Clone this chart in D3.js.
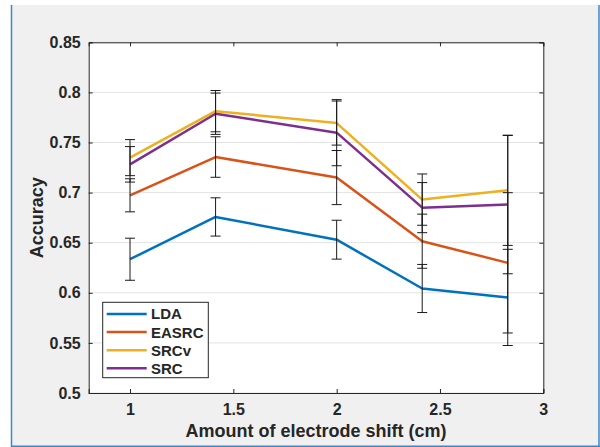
<!DOCTYPE html>
<html>
<head>
<meta charset="utf-8">
<script src="https://cdn.jsdelivr.net/npm/d3@7"></script>
<style>
  body { margin: 0; background: #fff; }
  svg { display: block; }
  text { font-family: "Liberation Sans", Arial, Helvetica, sans-serif; font-weight: bold; fill: #262626; }
</style>
</head>
<body>
<div id="chart"></div>
<script>
// data
var shifts = [1, 1.414, 2, 2.414, 2.828];
var seriesNames = ["LDA", "EASRC", "SRCv", "SRC"];
var seriesColors = ["#0072BD", "#D95319", "#EDB120", "#7E2F8E"];
var ldaAcc   = [0.6335, 0.6757, 0.653, 0.6043, 0.5954];
var easrcAcc = [0.6973, 0.7355, 0.715, 0.6515, 0.6299];
var srcvAcc  = [0.7349, 0.7813, 0.7694, 0.693, 0.7023];
var srcAcc   = [0.7282, 0.7787, 0.7598, 0.685, 0.688];
var ldaErr   = [0.021, 0.0191, 0.0194, 0.024, 0.048];
var easrcErr = [0.0165, 0.0202, 0.027, 0.027, 0.070];
var srcvErr  = [0.018, 0.0206, 0.022, 0.0256, 0.055];
var srcErr   = [0.0177, 0.0206, 0.033, 0.025, 0.069];
var xTicks = [1, 1.5, 2, 2.5, 3];
var xTickLabels = ["1", "1.5", "2", "2.5", "3"];
var yTicks = [0.5, 0.55, 0.6, 0.65, 0.7, 0.75, 0.8, 0.85];
var yTickLabels = ["0.5", "0.55", "0.6", "0.65", "0.7", "0.75", "0.8", "0.85"];

var width = 600;
var height = 447;
var axLeft = 88.7, axRight = 543.3, axTop = 42.3, axBottom = 393;

var svg = d3.select("#chart")
  .append("svg")
  .attr("width", width)
  .attr("height", height);

// figure background + window border
svg.append("rect").attr("x", 0).attr("y", 0).attr("width", width).attr("height", height).attr("fill", "#fff");
svg.append("rect").attr("x", 12).attr("y", 5).attr("width", 587).attr("height", 441).attr("fill", "#f0f0f0");
svg.append("line").attr("x1", 11.5).attr("x2", 11.5).attr("y1", 5).attr("y2", 447).attr("stroke", "#3f86c9").attr("stroke-width", 1.5);
svg.append("line").attr("x1", 599).attr("x2", 599).attr("y1", 5).attr("y2", 447).attr("stroke", "#3f86c9").attr("stroke-width", 1.5);
svg.append("line").attr("x1", 11).attr("x2", 600).attr("y1", 446.3).attr("y2", 446.3).attr("stroke", "#3f86c9").attr("stroke-width", 1.5);

var xScale = d3.scaleLinear().domain([0.8, 3]).range([axLeft, axRight]);
var yScale = d3.scaleLinear().domain([0.5, 0.85]).range([axBottom, axTop]);

svg.append("rect")
  .attr("x", axLeft).attr("y", axTop)
  .attr("width", axRight - axLeft).attr("height", axBottom - axTop)
  .attr("fill", "#fff");

// horizontal grid
svg.append("g")
  .selectAll("line")
  .data(yTicks)
  .enter()
  .append("line")
  .attr("x1", axLeft).attr("x2", axRight)
  .attr("y1", function(d) { return yScale(d); })
  .attr("y2", function(d) { return yScale(d); })
  .attr("stroke", "#e3e3e3")
  .attr("stroke-width", 1);

var allAcc = [ldaAcc, easrcAcc, srcvAcc, srcAcc];
var allErr = [ldaErr, easrcErr, srcvErr, srcErr];

var line = d3.line()
  .x(function(d) { return xScale(d[0]); })
  .y(function(d) { return yScale(d[1]); });

seriesNames.forEach(function(name, i) {
  var pts = shifts.map(function(s, j) { return [s, allAcc[i][j], allErr[i][j]]; });
  var g = svg.append("g").attr("class", "series " + name);

  g.append("path")
    .datum(pts)
    .attr("d", line)
    .attr("fill", "none")
    .attr("stroke", seriesColors[i])
    .attr("stroke-width", 2.5)
    .attr("stroke-linejoin", "round");

  var bars = g.selectAll("g.bar").data(pts).enter().append("g").attr("class", "bar");
  bars.append("line")
    .attr("x1", function(d) { return xScale(d[0]); })
    .attr("x2", function(d) { return xScale(d[0]); })
    .attr("y1", function(d) { return yScale(d[1] - d[2]); })
    .attr("y2", function(d) { return yScale(d[1] + d[2]); });
  bars.append("line")
    .attr("x1", function(d) { return xScale(d[0]) - 5; })
    .attr("x2", function(d) { return xScale(d[0]) + 5; })
    .attr("y1", function(d) { return yScale(d[1] - d[2]); })
    .attr("y2", function(d) { return yScale(d[1] - d[2]); });
  bars.append("line")
    .attr("x1", function(d) { return xScale(d[0]) - 5; })
    .attr("x2", function(d) { return xScale(d[0]) + 5; })
    .attr("y1", function(d) { return yScale(d[1] + d[2]); })
    .attr("y2", function(d) { return yScale(d[1] + d[2]); });
  bars.selectAll("line").attr("stroke", "#1a1a1a").attr("stroke-width", 1);
});

// axes
var xAxis = d3.axisBottom(xScale).tickValues(xTicks)
  .tickFormat(function(d, i) { return xTickLabels[i]; })
  .tickSize(-4).tickPadding(11);
var yAxis = d3.axisLeft(yScale).tickValues(yTicks)
  .tickFormat(function(d, i) { return yTickLabels[i]; })
  .tickSize(-4).tickPadding(8);
var xAxisTop = d3.axisTop(xScale).tickValues(xTicks).tickFormat("").tickSize(-4);
var yAxisRight = d3.axisRight(yScale).tickValues(yTicks).tickFormat("").tickSize(-4);

svg.append("g").attr("class", "xAxis").attr("transform", "translate(0," + axBottom + ")").call(xAxis);
svg.append("g").attr("class", "yAxis").attr("transform", "translate(" + axLeft + ",0)").call(yAxis);
svg.append("g").attr("transform", "translate(0," + axTop + ")").call(xAxisTop);
svg.append("g").attr("transform", "translate(" + axRight + ",0)").call(yAxisRight);

svg.selectAll(".domain, .tick line").attr("stroke", "#262626");
svg.selectAll(".tick text")
  .attr("font-size", 16)
  .attr("fill", "#262626")
  .style("font-family", "'Liberation Sans', Arial, sans-serif")
  .style("font-weight", "bold");

svg.append("text")
  .attr("x", (axLeft + axRight) / 2)
  .attr("y", 437)
  .attr("text-anchor", "middle")
  .attr("font-size", 18)
  .text("Amount of electrode shift (cm)");

svg.append("text")
  .attr("transform", "translate(43," + ((axTop + axBottom) / 2) + ")rotate(-90)")
  .attr("text-anchor", "middle")
  .attr("font-size", 18)
  .text("Accuracy");

// legend
var legend = svg.append("g").attr("class", "legend");
legend.append("rect")
  .attr("x", 102.7).attr("y", 302.3)
  .attr("width", 105.6).attr("height", 75.4)
  .attr("fill", "#fff")
  .attr("stroke", "#262626")
  .attr("stroke-width", 1);
var items = legend.selectAll("g.item").data(seriesNames).enter().append("g").attr("class", "item")
  .attr("transform", function(d, i) { return "translate(0," + (314 + i * 18.1) + ")"; });
items.append("line")
  .attr("x1", 106.7).attr("x2", 146.7)
  .attr("stroke", function(d, i) { return seriesColors[i]; })
  .attr("stroke-width", 2.5);
items.append("text")
  .attr("x", 151)
  .attr("dy", "0.36em")
  .attr("font-size", 15)
  .text(function(d) { return d; });
</script>
</body>
</html>
